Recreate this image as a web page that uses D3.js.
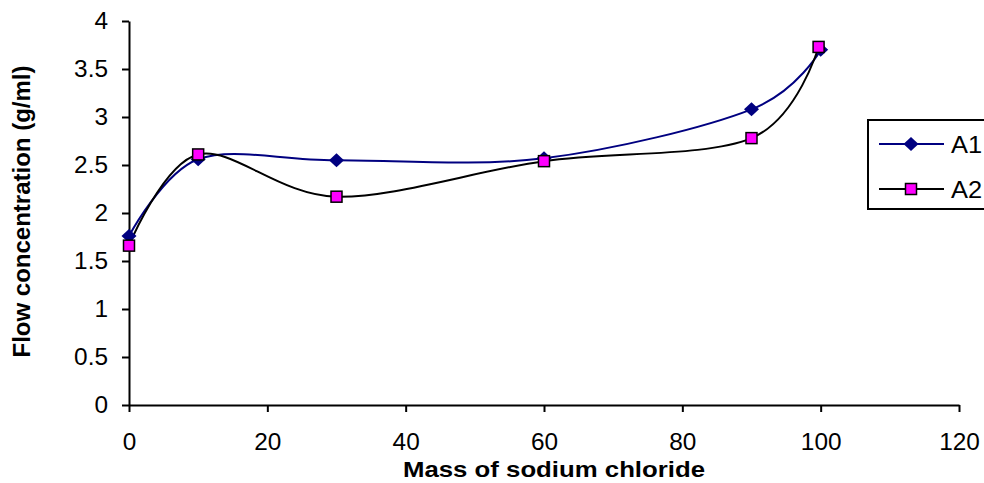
<!DOCTYPE html>
<html>
<head>
<meta charset="utf-8">
<script src="https://cdn.jsdelivr.net/npm/d3@7"></script>
<style>
  html, body { margin: 0; padding: 0; background: #fff; }
  svg { display: block; font-family: "Liberation Sans", Arial, sans-serif; }
</style>
</head>
<body>
<svg id="chart" width="984" height="483"></svg>
<script>
// Mass of sodium chloride vs flow concentration
const xValuesA1 = [0, 10, 30, 60, 90, 100];
const valuesA1 = [1.76, 2.56, 2.55, 2.57, 3.08, 3.70];
const xValuesA2 = [0, 10, 30, 60, 90, 99.7];
const valuesA2 = [1.66, 2.61, 2.17, 2.54, 2.78, 3.73];
const seriesNames = ["A1", "A2"];
const xTicks = [0, 20, 40, 60, 80, 100, 120];
const yTicks = [0, 0.5, 1, 1.5, 2, 2.5, 3, 3.5, 4];

const svg = d3.select("#chart");
const margin = { left: 129, right: 25, top: 21, bottom: 78 };
const W = 984, H = 483;

const x = d3.scaleLinear().domain([0, 120]).range([margin.left, W - margin.right]);
const y = d3.scaleLinear().domain([0, 4]).range([H - margin.bottom, margin.top]);

// Slightly widen glyphs of a text selection
function widen(sel, k) {
  sel.each(function () {
    const w = this.getComputedTextLength();
    d3.select(this).attr("textLength", w * k).attr("lengthAdjust", "spacingAndGlyphs");
  });
}

// Axes
const xAxis = d3.axisBottom(x).tickValues(xTicks).tickSize(7).tickSizeOuter(0).tickPadding(22);
const yAxis = d3.axisLeft(y).tickValues(yTicks).tickSize(7).tickSizeOuter(0).tickPadding(14)
  .tickFormat(d3.format("~g"));

const gx = svg.append("g").attr("transform", `translate(0,${y(0)})`).call(xAxis);
const gy = svg.append("g").attr("transform", `translate(${x(0)},0)`).call(yAxis);
[gx, gy].forEach(g => {
  g.selectAll("path.domain").attr("stroke", "#000").attr("stroke-width", 2);
  g.selectAll(".tick line").attr("stroke", "#000").attr("stroke-width", 2);
  const t = g.selectAll(".tick text").attr("fill", "#000").style("font-size", "23px")
    .style("font-family", "'Liberation Sans', Arial, sans-serif");
  widen(t, 1.06);
});

// Axis titles
svg.append("text")
  .attr("x", 554).attr("y", 477)
  .attr("text-anchor", "middle")
  .attr("textLength", 302).attr("lengthAdjust", "spacingAndGlyphs")
  .style("font-size", "22px").style("font-weight", "bold")
  .text("Mass of sodium chloride");

svg.append("text")
  .attr("transform", `translate(30,211.5) rotate(-90)`)
  .attr("text-anchor", "middle")
  .style("font-size", "24px").style("font-weight", "bold")
  .text("Flow concentration (g/ml)");

// Smoothed series lines
const line = d3.line().x(d => x(d[0])).y(d => y(d[1])).curve(d3.curveCardinal.tension(0));
const dataA1 = xValuesA1.map((v, i) => [v, valuesA1[i]]);
const dataA2 = xValuesA2.map((v, i) => [v, valuesA2[i]]);

svg.append("path").datum(dataA1).attr("d", line)
  .attr("fill", "none").attr("stroke", "#000080").attr("stroke-width", 2);
svg.append("path").datum(dataA2).attr("d", line)
  .attr("fill", "none").attr("stroke", "#000").attr("stroke-width", 2);

// Markers
const diamondPath = (w, h) => `M0,${-h / 2}L${w / 2},0L0,${h / 2}L${-w / 2},0Z`;
svg.append("g").selectAll("path").data(dataA1).join("path")
  .attr("d", diamondPath(15, 14))
  .attr("transform", d => `translate(${x(d[0])},${y(d[1])})`)
  .attr("fill", "#000080");

svg.append("g").selectAll("rect").data(dataA2).join("rect")
  .attr("x", d => x(d[0]) - 5.5).attr("y", d => y(d[1]) - 5.5)
  .attr("width", 11).attr("height", 11)
  .attr("fill", "#ff00ff").attr("stroke", "#000").attr("stroke-width", 1.5);

// Legend
const legend = svg.append("g");
legend.append("rect")
  .attr("x", 868).attr("y", 120).attr("width", 140).attr("height", 89)
  .attr("fill", "#fff").attr("stroke", "#000").attr("stroke-width", 2);

const legendRows = [
  { name: seriesNames[0], color: "#000080", yPos: 144, marker: "diamond" },
  { name: seriesNames[1], color: "#000", yPos: 189, marker: "square" }
];
legendRows.forEach(r => {
  legend.append("line")
    .attr("x1", 879).attr("x2", 944).attr("y1", r.yPos).attr("y2", r.yPos)
    .attr("stroke", r.color).attr("stroke-width", 2);
  if (r.marker === "diamond") {
    legend.append("path").attr("d", diamondPath(15, 14))
      .attr("transform", `translate(911,${r.yPos})`)
      .attr("fill", "#000080");
  } else {
    legend.append("rect")
      .attr("x", 911 - 5.5).attr("y", r.yPos - 5.5).attr("width", 11).attr("height", 11)
      .attr("fill", "#ff00ff").attr("stroke", "#000").attr("stroke-width", 1.5);
  }
  const t = legend.append("text")
    .attr("x", 951).attr("y", r.yPos + 9)
    .style("font-size", "24px")
    .text(r.name);
  widen(t, 1.06);
});
</script>
</body>
</html>
